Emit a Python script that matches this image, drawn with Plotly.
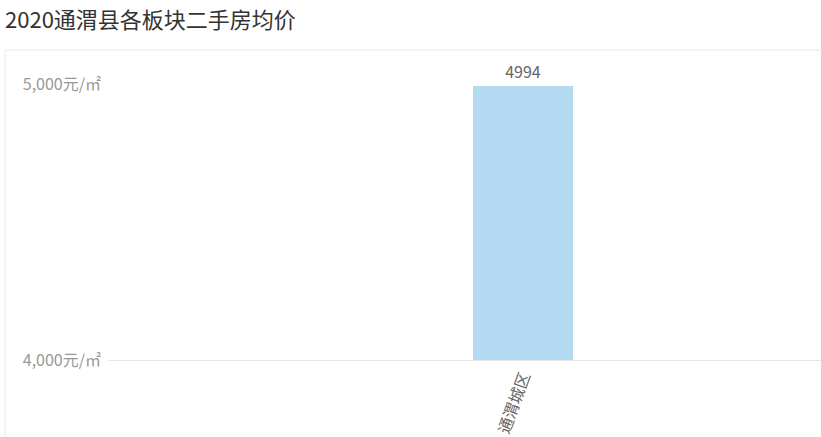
import plotly.graph_objects as go

# 数据
categories = ["通渭城区"]
prices = [4994]
tick_vals = [4000, 5000]
tick_text = ["4,000元/㎡", "5,000元/㎡"]

W, H = 821, 437
L, R, T, B = 108, 0, 84, 77
pw = W - L - R
ph = H - T - B

fig = go.Figure()
fig.add_trace(go.Bar(
    x=[0],
    y=prices,
    width=0.12,
    marker=dict(color="#b3daf1", line=dict(width=0)),
    text=[str(v) for v in prices],
    textposition="outside",
    textfont=dict(color="#666666", size=16),
    cliponaxis=False,
    hoverinfo="skip",
))

# 外框（左、上）
fx = (5 - L) / pw
fy = (H - B - 50) / ph
fig.add_shape(type="line", xref="paper", yref="paper",
              x0=fx, x1=fx, y0=-1, y1=fy, line=dict(color="#e8e8e8", width=1))
fig.add_shape(type="line", xref="paper", yref="paper",
              x0=fx, x1=1.2, y0=fy, y1=fy, line=dict(color="#e8e8e8", width=1))

fig.update_layout(
    width=W, height=H,
    margin=dict(l=L, r=R, t=T, b=B),
    paper_bgcolor="white", plot_bgcolor="white",
    font=dict(family="Noto Sans CJK SC, Microsoft YaHei, sans-serif"),
    showlegend=False,
    bargap=0,
    title=dict(text="2020通渭县各板块二手房均价", x=5 / W, xanchor="left",
               xref="container", y=1 - 20 / H, yanchor="middle", yref="container",
               font=dict(size=22, color="#333333")),
    xaxis=dict(
        range=[-0.5, 0.359],
        tickvals=[0], ticktext=categories,
        tickangle=-70,
        tickfont=dict(size=16, color="#666666"),
        showgrid=False, zeroline=False,
        showline=True, linecolor="#e6e6e6", linewidth=1,
        ticks="",
    ),
    yaxis=dict(
        range=[4000, 5000],
        tickvals=tick_vals, ticktext=tick_text,
        tickfont=dict(size=16, color="#999999"),
        ticklabelstandoff=6,
        showgrid=False, zeroline=False, showline=False,
        ticks="",
    ),
)

# 去掉页面默认的 8px 边距
fig.write_html("out.html", config={"displayModeBar": False},
               post_script="document.body.style.margin='0';")
